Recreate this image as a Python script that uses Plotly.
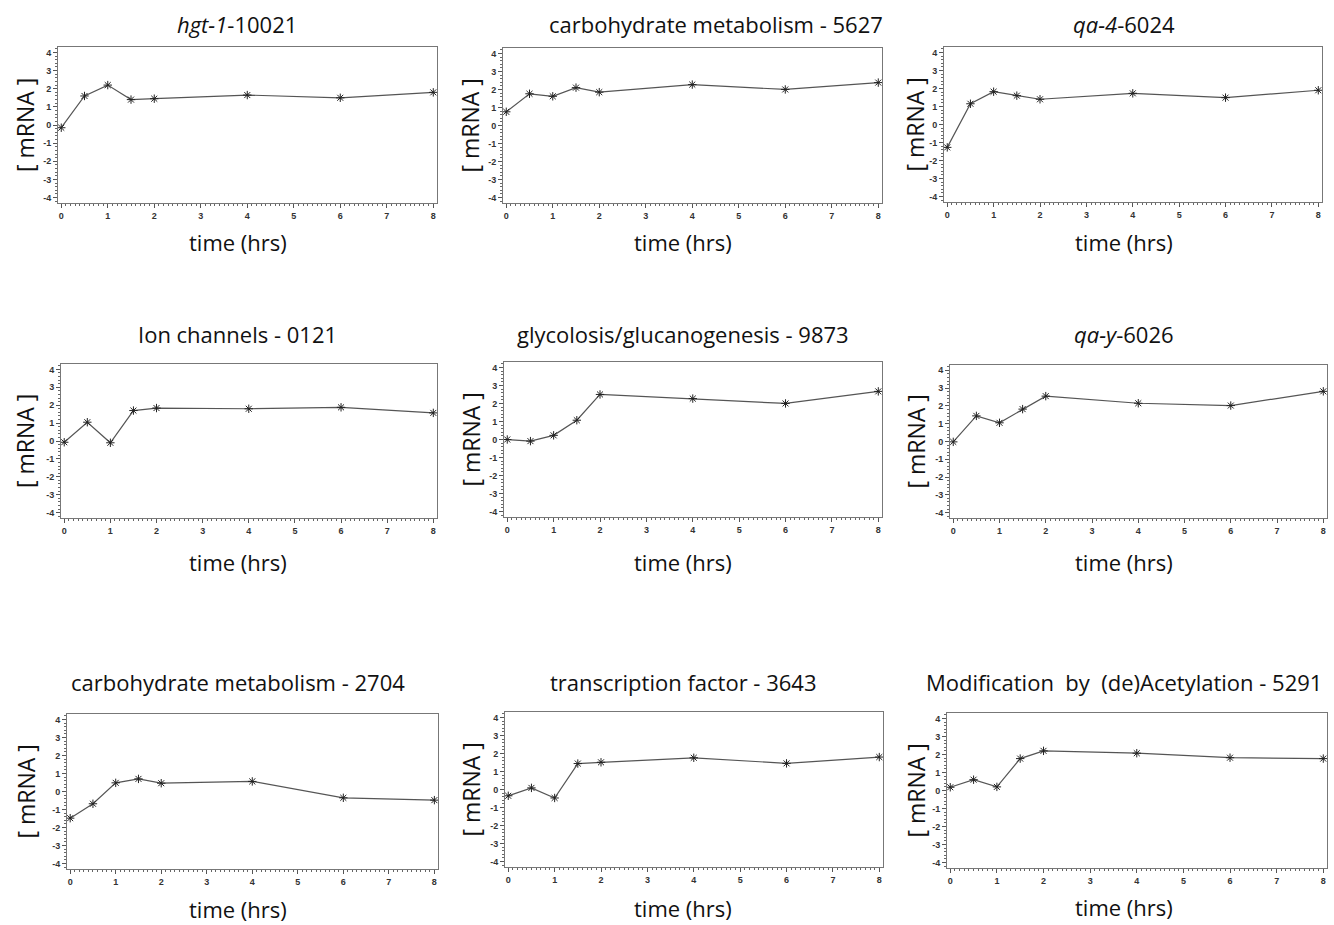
import plotly.graph_objects as go

time_hrs = [0, 0.5, 1, 1.5, 2, 4, 6, 8]

titles = [
    "<i>hgt-1</i>-10021",
    "carbohydrate metabolism - 5627",
    "<i>qa-4</i>-6024",
    "Ion channels - 0121",
    "glycolosis/glucanogenesis - 9873",
    "<i>qa-y</i>-6026",
    "carbohydrate metabolism - 2704",
    "transcription factor - 3643",
    "Modification  by  (de)Acetylation - 5291",
]

hgt1_10021 = [-0.15, 1.6, 2.2, 1.4, 1.45, 1.65, 1.5, 1.8]
carb_5627 = [0.76, 1.76, 1.62, 2.1, 1.85, 2.27, 2.0, 2.38]
qa4_6024 = [-1.27, 1.15, 1.82, 1.6, 1.4, 1.73, 1.49, 1.9]
ion_0121 = [-0.07, 1.05, -0.1, 1.7, 1.84, 1.8, 1.88, 1.57]
glyco_9873 = [0.0, -0.09, 0.23, 1.07, 2.5, 2.27, 2.0, 2.67]
qay_6026 = [-0.02, 1.44, 1.05, 1.82, 2.55, 2.15, 2.02, 2.82]
carb_2704 = [-1.48, -0.68, 0.48, 0.7, 0.46, 0.56, -0.35, -0.48]
tf_3643 = [-0.35, 0.09, -0.47, 1.44, 1.51, 1.76, 1.45, 1.8]
acet_5291 = [0.18, 0.6, 0.2, 1.77, 2.2, 2.07, 1.82, 1.77]

series = [hgt1_10021, carb_5627, qa4_6024, ion_0121, glyco_9873,
          qay_6026, carb_2704, tf_3643, acet_5291]

x_ticks = [0, 1, 2, 3, 4, 5, 6, 7, 8]
y_ticks = [-4, -3, -2, -1, 0, 1, 2, 3, 4]

W, H = 1334, 925
# plot boxes in pixels: (left, right, top, bottom)
boxes = [
    (58, 437, 47, 203), (503, 882, 48, 203), (944, 1322, 47, 202),
    (61, 437, 364, 518), (504, 882, 362, 517), (950, 1327, 365, 518),
    (67, 438, 714, 869), (505, 883, 712, 867), (947, 1327, 713, 868),
]
title_pos = [(237, 24), (716, 24), (1124, 24),
             (237, 334), (683, 334), (1124, 334),
             (238, 682), (683, 682), (1124, 682)]
xtitle_pos = [(238, 242), (683, 242), (1124, 242),
              (238, 562), (683, 562), (1124, 562),
              (238, 909), (683, 908), (1124, 907)]
ytitle_x = [25, 470, 915]

fig = go.Figure()
layout = dict(
    width=W, height=H, margin=dict(l=0, r=0, t=0, b=0),
    paper_bgcolor="white", plot_bgcolor="white", showlegend=False,
    font=dict(family="Open Sans", color="#222"),
)
annotations = []

tickfont = dict(family="Liberation Sans", size=9, color="#333", weight="bold")

for i, (vals, box) in enumerate(zip(series, boxes)):
    k = "" if i == 0 else str(i + 1)
    l, r, t, b = box
    xa = dict(
        domain=[l / W, r / W], range=[-0.07, 8.08], anchor="y" + k,
        tickmode="array", tickvals=x_ticks, ticktext=[str(v) for v in x_ticks],
        ticks="outside", ticklen=4, tickwidth=1, tickcolor="#555",
        minor=dict(dtick=0.1, tick0=0, ticks="outside", ticklen=2, tickcolor="#666"),
        showline=True, linecolor="#777", linewidth=1, mirror=True,
        showgrid=False, zeroline=False, tickfont=tickfont, fixedrange=True,
    )
    ya = dict(
        domain=[1 - b / H, 1 - t / H], range=[-4.3, 4.3], anchor="x" + k,
        tickmode="array", tickvals=y_ticks, ticktext=[str(v) for v in y_ticks],
        ticks="outside", ticklen=4, tickwidth=1, tickcolor="#555",
        minor=dict(dtick=0.2, tick0=0, ticks="outside", ticklen=2, tickcolor="#666"),
        showline=True, linecolor="#777", linewidth=1, mirror=True,
        showgrid=False, zeroline=False, tickfont=tickfont, fixedrange=True,
    )
    layout["xaxis" + k] = xa
    layout["yaxis" + k] = ya
    fig.add_trace(go.Scatter(
        x=time_hrs, y=vals, xaxis="x" + k, yaxis="y" + k,
        mode="lines+markers",
        line=dict(color="#555", width=1.2),
        marker=dict(symbol="asterisk-open", size=7, color="#222",
                    line=dict(width=1, color="#222")),
    ))
    tx, ty = title_pos[i]
    annotations.append(dict(
        text=titles[i], x=tx / W, y=1 - ty / H, xref="paper", yref="paper",
        showarrow=False, xanchor="center", yanchor="middle",
        font=dict(family="Open Sans", size=22, color="#111"),
    ))
    xx, xy = xtitle_pos[i]
    annotations.append(dict(
        text="time (hrs)", x=xx / W, y=1 - xy / H, xref="paper", yref="paper",
        showarrow=False, xanchor="center", yanchor="middle",
        font=dict(family="Open Sans", size=22, color="#111"),
    ))
    annotations.append(dict(
        text="[ mRNA ]", x=ytitle_x[i % 3] / W, y=1 - ((t + b) / 2) / H,
        xref="paper", yref="paper", textangle=-90,
        showarrow=False, xanchor="center", yanchor="middle",
        font=dict(family="Open Sans", size=23, color="#111"),
    ))

layout["annotations"] = annotations
fig.update_layout(**layout)
fig.write_html("out.html", config={"displayModeBar": False},
               post_script="document.body.style.margin='0';")
